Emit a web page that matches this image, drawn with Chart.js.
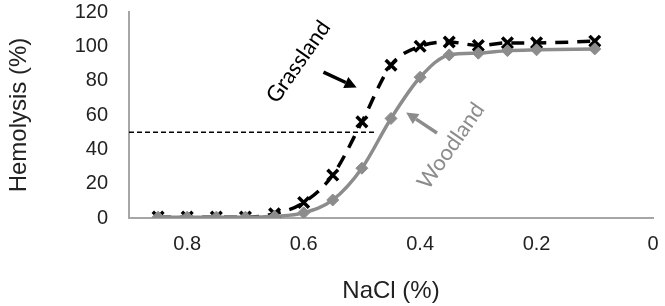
<!DOCTYPE html>
<html>
  <head>
    <meta charset="UTF-8" />
    <title>Hemolysis vs NaCl</title>
    <style>
      html,
      body {
        margin: 0;
        padding: 0;
        width: 100%;
        height: 100%;
        background: #fff;
      }
      .chart-container {
        position: relative;
        width: 665px;
        height: 306px;
      }
    </style>
    <script src="https://cdn.jsdelivr.net/npm/chart.js"></script>
  </head>
  <body>
    <div class="chart-container">
      <canvas id="chart"></canvas>
    </div>
    <script>
      // data
      const nacl = [0.85, 0.8, 0.75, 0.7, 0.65, 0.6, 0.55, 0.5, 0.45, 0.4, 0.35, 0.3, 0.25, 0.2, 0.1];
      const woodland = [0.5, 0.5, 0.5, 0.5, 1, 3, 10.5, 29, 58, 82, 95, 96, 97.5, 98, 98.5];
      const grassland = [0.5, 0.5, 0.5, 0.5, 2.5, 9, 25, 56, 89, 100, 102.5, 100.5, 102, 102, 103];
      const halfX = [0.9, 0.475];
      const halfY = [50, 50];
      const xTicks = [0.8, 0.6, 0.4, 0.2, 0];
      const yTicks = [0, 20, 40, 60, 80, 100, 120];

      const toPoints = (xs, ys) => xs.map((x, i) => ({ x: x, y: ys[i] }));

      const FONT = "'Liberation Sans', Arial, sans-serif";
      const GRAY = "#8c8c8c";
      const AXIS = "#a6a6a6";
      const TEXT = "#222";

      function drawArrow(ctx, x1, y1, x2, y2, color) {
        const ang = Math.atan2(y2 - y1, x2 - x1);
        const head = 12, half = 6;
        const bx = x2 - head * Math.cos(ang), by = y2 - head * Math.sin(ang);
        ctx.save();
        ctx.strokeStyle = color;
        ctx.fillStyle = color;
        ctx.lineWidth = 3.5;
        ctx.beginPath();
        ctx.moveTo(x1, y1);
        ctx.lineTo(bx, by);
        ctx.stroke();
        ctx.beginPath();
        ctx.moveTo(x2, y2);
        ctx.lineTo(bx + half * Math.sin(ang), by - half * Math.cos(ang));
        ctx.lineTo(bx - half * Math.sin(ang), by + half * Math.cos(ang));
        ctx.closePath();
        ctx.fill();
        ctx.restore();
      }

      function drawLabel(ctx, text, x, y, color) {
        ctx.save();
        ctx.translate(x, y);
        ctx.rotate((-55 * Math.PI) / 180);
        ctx.font = "22px Lato, 'Open Sans', sans-serif";
        ctx.fillStyle = color;
        ctx.textAlign = "center";
        ctx.textBaseline = "middle";
        ctx.fillText(text, 0, 0);
        ctx.restore();
      }

      // labels and arrows placed in data units
      const notes = {
        id: "notes",
        afterDatasetsDraw(chart) {
          const { ctx, scales } = chart;
          const px = (v) => scales.x.getPixelForValue(v);
          const py = (v) => scales.y.getPixelForValue(v);
          drawLabel(ctx, "Grassland", px(0.609), py(91), "#000");
          drawArrow(ctx, px(0.566), py(85), px(0.509), py(76), "#000");
          drawLabel(ctx, "Woodland", px(0.347), py(42), GRAY);
          drawArrow(ctx, px(0.371), py(49.5), px(0.424), py(61.5), GRAY);
        },
      };

      new Chart(document.getElementById("chart"), {
        type: "scatter",
        data: {
          datasets: [
            {
              label: "Woodland",
              data: toPoints(nacl, woodland),
              showLine: true,
              borderColor: GRAY,
              backgroundColor: GRAY,
              borderWidth: 3.5,
              pointStyle: "rectRot",
              pointRadius: 6,
              pointBorderWidth: 1,
              cubicInterpolationMode: "monotone",
              order: 0,
            },
            {
              label: "Grassland",
              data: toPoints(nacl, grassland),
              showLine: true,
              borderColor: "#000",
              backgroundColor: "#000",
              borderWidth: 3.5,
              borderDash: [13, 9],
              pointStyle: "crossRot",
              pointRadius: 7.5,
              pointBorderWidth: 3.5,
              cubicInterpolationMode: "monotone",
              order: 1,
            },
            {
              label: "50%",
              data: toPoints(halfX, halfY),
              showLine: true,
              borderColor: "#000",
              borderWidth: 1.5,
              borderDash: [5, 3],
              pointRadius: 0,
              order: 2,
            },
          ],
        },
        options: {
          responsive: true,
          maintainAspectRatio: false,
          animation: false,
          layout: { padding: { top: 12, right: 12, bottom: 0, left: 0 } },
          plugins: {
            legend: { display: false },
            tooltip: { enabled: false },
          },
          scales: {
            x: {
              type: "linear",
              reverse: true,
              min: 0,
              max: 0.9,
              afterBuildTicks: (s) => {
                s.ticks = xTicks.map((v) => ({ value: v }));
              },
              afterFit: (s) => {
                s.height = 88;
                s.paddingLeft = 0;
                s.paddingRight = 0;
              },
              grid: { display: false, drawTicks: false },
              border: { display: true, color: AXIS, width: 2 },
              ticks: {
                color: TEXT,
                font: { family: FONT, size: 20 },
                padding: 14,
                maxRotation: 0,
                autoSkip: false,
                callback: (v) => String(v),
              },
              title: {
                display: true,
                text: "NaCl (%)",
                color: TEXT,
                font: { family: FONT, size: 24 },
                padding: { top: 0, bottom: 0 },
              },
            },
            y: {
              min: 0,
              max: 120,
              afterBuildTicks: (s) => {
                s.ticks = yTicks.map((v) => ({ value: v }));
              },
              afterFit: (s) => {
                s.width = 129;
                s.paddingTop = 0;
                s.paddingBottom = 0;
              },
              grid: { display: false, drawTicks: false },
              border: { display: true, color: AXIS, width: 2 },
              ticks: {
                color: TEXT,
                font: { family: FONT, size: 20 },
                padding: 21,
              },
              title: {
                display: true,
                text: "Hemolysis (%)",
                color: TEXT,
                font: { family: FONT, size: 24 },
                padding: { top: 5, bottom: 5 },
              },
            },
          },
        },
        plugins: [notes],
      });
    </script>
  </body>
</html>
